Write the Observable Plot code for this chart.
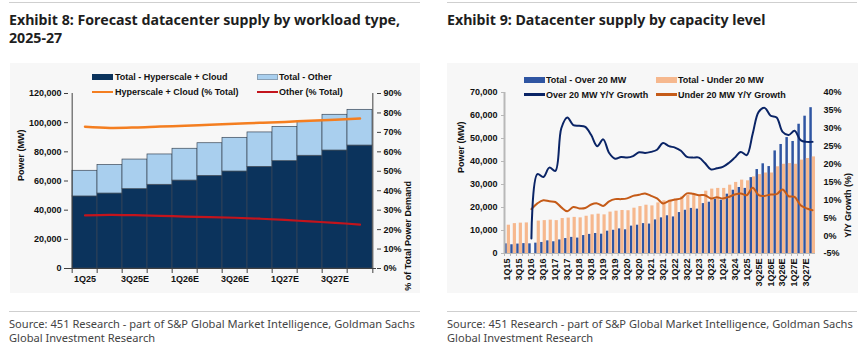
<!DOCTYPE html>
<html><head><meta charset="utf-8">
<script src="https://cdn.jsdelivr.net/npm/d3@7"></script>
<script src="https://cdn.jsdelivr.net/npm/@observablehq/plot@0.6"></script>
<style>
body{margin:0;background:#fff;width:866px;height:353px;position:relative;overflow:hidden;font-family:"Noto Sans",sans-serif;}
.title{position:absolute;font-weight:700;font-size:14.2px;line-height:18px;color:#1e1e1e;white-space:nowrap}
.rule{position:absolute;height:1px;background:#cfcfcf}
.src{position:absolute;font-size:11.1px;line-height:14px;color:#444;white-space:nowrap}
.box{position:absolute;background:#f7f7f7}
.leg{position:absolute;font:bold 9px "Liberation Sans",Arial,sans-serif;color:#111;white-space:nowrap;height:12px;line-height:12px}
.sw{position:absolute}
</style></head><body>
<div id="root"></div>
<script>
// ---------- Exhibit 8 data ----------
const q8 = ["1Q25","2Q25E","3Q25E","4Q25E","1Q26E","2Q26E","3Q26E","4Q26E","1Q27E","2Q27E","3Q27E","4Q27E"];
const q8Ticks = ["1Q25","3Q25E","1Q26E","3Q26E","1Q27E","3Q27E"];
const hyperscaleMW = [49400,51400,54400,57400,60300,63500,66500,69700,73600,77300,80900,84300];
const otherMW = [17600,19500,20300,20800,21800,22400,23100,23600,23500,23700,24500,24500];
const hyperscalePct = [72.9,72.3,72.5,73.0,73.4,73.9,74.4,74.9,75.4,76.0,76.5,77.1];
const otherPct = [27.3,27.6,27.4,27.1,26.7,26.4,26.1,25.6,25.0,24.2,23.5,22.6];
const ex8LeftTicks = [0,20000,40000,60000,80000,100000,120000];
const ex8RightTicks = [0,10,20,30,40,50,60,70,80,90];

// ---------- Exhibit 9 data ----------
const qs = ["1Q15","2Q15","3Q15","4Q15","1Q16","2Q16","3Q16","4Q16","1Q17","2Q17","3Q17","4Q17",
"1Q18","2Q18","3Q18","4Q18","1Q19","2Q19","3Q19","4Q19","1Q20","2Q20","3Q20","4Q20",
"1Q21","2Q21","3Q21","4Q21","1Q22","2Q22","3Q22","4Q22","1Q23","2Q23","3Q23","4Q23",
"1Q24","2Q24","3Q24","4Q24","1Q25","2Q25E","3Q25E","4Q25E","1Q26E","2Q26E","3Q26E","4Q26E",
"1Q27E","2Q27E","3Q27E","4Q27E"];
const qsTicks = ["1Q15","3Q15","1Q16","3Q16","1Q17","3Q17","1Q18","3Q18","1Q19","3Q19","1Q20","3Q20",
"1Q21","3Q21","1Q22","3Q22","1Q23","3Q23","1Q24","3Q24","1Q25","3Q25E","1Q26E","3Q26E","1Q27E","3Q27E"];
const over20MW = [4200,3800,4100,4300,4200,4500,4800,5500,5100,5900,6500,7000,
6700,7800,8300,8700,8400,9700,10100,10700,10300,11900,12300,13000,
12800,14600,15500,16400,15900,17800,18800,19600,19300,21700,22300,23600,
23200,25800,27500,28700,28300,33000,36500,39000,37800,44600,47400,50400,
48700,56200,59700,63400];
const under20MW = [12300,13000,13200,13300,null,14100,14300,14500,14300,15200,15400,15700,
15500,16200,16800,17100,16800,18000,18400,18700,18600,19700,20400,21000,
20700,22000,22900,23200,23600,24600,25300,25800,25300,27100,28000,28300,
28300,29700,30900,31900,31600,33300,34300,35000,35000,37700,38800,39100,
38800,40600,41300,42000];
const over20Growth = [null,null,null,null,-0.8,17.2,16.4,19.0,18.1,30.0,33.0,30.9,
30.7,30.4,28.1,25.0,26.9,23.1,21.5,22.0,21.8,22.2,23.3,23.1,
23.4,24.0,25.9,25.0,24.6,23.7,22.0,21.8,21.8,20.3,18.5,18.8,
19.2,20.3,21.8,23.4,22.5,28.5,34.6,35.7,33.5,33.0,29.0,28.1,
29.3,26.7,26.2,26.2];
const under20Growth = [null,null,null,null,7.4,9.0,9.9,9.6,9.4,7.9,6.8,8.0,
7.6,7.7,8.7,9.0,8.3,9.6,10.2,10.2,10.4,11.1,11.4,11.8,
11.1,10.4,9.0,9.7,10.1,10.4,11.8,11.7,11.3,11.3,10.4,10.7,
10.4,10.8,11.5,11.8,11.3,13.4,11.3,11.1,11.5,11.6,12.9,11.0,
10.8,8.5,7.6,7.1];
const ex9LeftTicks = [0,10000,20000,30000,40000,50000,60000,70000];
const ex9RightTicks = [-5,0,5,10,15,20,25,30,35,40];

// ---------- colours ----------
const C = {navy:"#0b335c", light:"#a9cfee", orange:"#f47e20", red:"#c3141c",
  blue:"#2f55a2", salmon:"#f6b88e", navyLine:"#0a2466", burnt:"#c55b18"};

const root = document.getElementById("root");
function el(cls, css, html){const d=document.createElement("div");d.className=cls;Object.assign(d.style,css);if(html!=null)d.innerHTML=html;root.appendChild(d);return d;}
function place(node, left, top){node.style.position="absolute";node.style.left=left+"px";node.style.top=top+"px";root.appendChild(node);}
const axisFont = {background:"transparent",fontFamily:'"Liberation Sans",Arial,sans-serif',fontSize:"9px",fontWeight:"bold",color:"#111",overflow:"visible"};

// page furniture
el("rule",{left:"9px",top:"2px",width:"411px"});
el("rule",{left:"447px",top:"2px",width:"410px"});
el("title",{left:"9px",top:"11px"},"Exhibit 8: Forecast datacenter supply by workload type,<br>2025-27");
el("title",{left:"447px",top:"11px"},"Exhibit 9: Datacenter supply by capacity level");
el("box",{left:"10px",top:"63px",width:"410px",height:"230px"});
el("box",{left:"447px",top:"63px",width:"411px",height:"230px"});
el("rule",{left:"9px",top:"311px",width:"411px"});
el("rule",{left:"447px",top:"311px",width:"410px"});
el("src",{left:"9px",top:"317px"},"Source: 451 Research - part of S&amp;P Global Market Intelligence, Goldman Sachs<br>Global Investment Research");
el("src",{left:"447px",top:"317px"},"Source: 451 Research - part of S&amp;P Global Market Intelligence, Goldman Sachs<br>Global Investment Research");

// ---------- Exhibit 8 ----------
const W8 = 410, H8 = 230, M8 = {l:58, r:44, t:30, b:25};
const bw8 = (W8 - M8.l - M8.r) / q8.length;
const ex8Rows = q8.flatMap((q,i)=>[{q, s:"Total - Hyperscale + Cloud", v:hyperscaleMW[i]},{q, s:"Total - Other", v:otherMW[i]}]);
const hpRows = q8.map((q,i)=>({q, v:hyperscalePct[i]}));
const opRows = q8.map((q,i)=>({q, v:otherPct[i]}));
const ax = "#404040";
const ex8Bars = Plot.plot({
  width:W8, height:H8, marginLeft:M8.l, marginRight:M8.r, marginTop:M8.t, marginBottom:M8.b,
  style:axisFont,
  x:{type:"band", domain:q8, padding:0, axis:null},
  y:{domain:[0,120000], axis:null},
  color:{domain:["Total - Hyperscale + Cloud","Total - Other"], range:[C.navy, C.light]},
  marks:[
    Plot.barY(ex8Rows,{x:"q", y:"v", fill:"s", stroke:"#3a4756", strokeWidth:0.7}),
    Plot.ruleX([q8[0]],{dx:-bw8/2, stroke:ax}),
    Plot.ruleY([0],{stroke:ax}),
    Plot.ruleX(q8,{dx:-bw8/2, y1:0, y2:0, insetBottom:-5, stroke:ax}),
    Plot.ruleX([q8[q8.length-1]],{dx:bw8/2, y1:0, y2:0, insetBottom:-5, stroke:ax}),
    Plot.axisY({ticks:ex8LeftTicks, tickFormat:d3.format(","), tickSize:4, tickPadding:3, label:null, stroke:ax}),
    Plot.axisX({ticks:q8Ticks, tickSize:0, tickPadding:7, label:null}),
    Plot.text(["Power (MW)"],{frameAnchor:"left", rotate:-90, dx:-47, fill:"#111"})
  ]
});
const ex8Lines = Plot.plot({
  width:W8, height:H8, marginLeft:M8.l, marginRight:M8.r, marginTop:M8.t, marginBottom:M8.b,
  style:axisFont,
  x:{type:"band", domain:q8, padding:0, axis:null},
  y:{domain:[0,90], axis:null},
  marks:[
    Plot.line(hpRows,{x:"q", y:"v", stroke:C.orange, strokeWidth:2.5, curve:"catmull-rom"}),
    Plot.line(opRows,{x:"q", y:"v", stroke:C.red, strokeWidth:2.2, curve:"catmull-rom"}),
    Plot.ruleX([q8[q8.length-1]],{dx:bw8/2, stroke:ax}),
    Plot.axisY({anchor:"right", ticks:ex8RightTicks, tickFormat:d=>d+"%", tickSize:4, tickPadding:3, label:null, stroke:ax}),
    Plot.text(["% of Total Power Demand"],{frameAnchor:"right", rotate:-90, dx:32, fill:"#111"})
  ]
});
place(ex8Bars,10,63);
place(ex8Lines,10,63);

// ---------- Exhibit 9 ----------
const W9 = 411, H9 = 230, M9 = {l:57, r:43, t:29, b:40};
const bw9 = (W9 - M9.l - M9.r) / qs.length;
const overRows = qs.map((q,i)=>({q, v:over20MW[i]}));
const underRows = qs.map((q,i)=>({q, v:under20MW[i]}));
const ogRows = qs.map((q,i)=>({q, v:over20Growth[i]}));
const ugRows = qs.map((q,i)=>({q, v:under20Growth[i]}));
const grey = "#b8b8b8";
const ex9Bars = Plot.plot({
  width:W9, height:H9, marginLeft:M9.l, marginRight:M9.r, marginTop:M9.t, marginBottom:M9.b,
  style:axisFont,
  x:{type:"band", domain:qs, padding:0, axis:null},
  y:{domain:[0,70000], axis:null},
  marks:[
    Plot.barY(overRows,{x:"q", y:"v", fill:C.blue, insetLeft:0.3, insetRight:3.2}),
    Plot.barY(underRows,{x:"q", y:"v", fill:C.salmon, insetLeft:2.8, insetRight:0}),
    Plot.ruleY([0],{stroke:grey}),
    Plot.ruleX(qs,{dx:-bw9/2, y1:0, y2:0, insetBottom:-3, stroke:grey}),
    Plot.ruleX([qs[0]],{dx:-bw9/2, stroke:grey, strokeWidth:2}),
    Plot.axisY({ticks:ex9LeftTicks, tickFormat:d3.format(","), tickSize:3, tickPadding:4, label:null, stroke:grey}),
    Plot.axisX({ticks:qsTicks, tickRotate:-90, tickSize:0, tickPadding:5, label:null}),
    Plot.text(["Power (MW)"],{frameAnchor:"left", rotate:-90, dx:-43, fill:"#111"})
  ]
});
const ex9Lines = Plot.plot({
  width:W9, height:H9, marginLeft:M9.l, marginRight:M9.r, marginTop:M9.t, marginBottom:M9.b,
  style:axisFont,
  x:{type:"band", domain:qs, padding:0, axis:null},
  y:{domain:[-5,40], axis:null},
  marks:[
    Plot.line(ugRows,{x:"q", y:"v", stroke:C.burnt, strokeWidth:2, curve:"catmull-rom"}),
    Plot.line(ogRows,{x:"q", y:"v", stroke:C.navyLine, strokeWidth:2, curve:"catmull-rom"}),
    Plot.axisY({anchor:"right", ticks:ex9RightTicks, tickFormat:d=>d+"%", tickSize:0, tickPadding:8, label:null}),
    Plot.text(["Y/Y Growth (%)"],{frameAnchor:"right", rotate:-90, dx:33, fill:"#111"})
  ]
});
place(ex9Bars,447,63);
place(ex9Lines,447,63);

// ---------- legends ----------
function legend(items){
  for(const it of items){
    const sw = document.createElement("div"); sw.className="sw";
    if(it.kind==="box"){
      Object.assign(sw.style,{left:it.x+"px",top:(it.y-3)+"px",width:"21px",height:"6px",background:it.color,boxSizing:"border-box",border:"0.5px solid "+(it.border||it.color)});
    } else {
      Object.assign(sw.style,{left:it.x+"px",top:(it.y-1.25)+"px",width:"21px",height:"2.5px",background:it.color});
    }
    root.appendChild(sw);
    el("leg",{left:(it.x+it.gap)+"px",top:(it.y-6)+"px"},it.label);
  }
}
legend([
  {x:92,y:77,kind:"box",color:C.navy,gap:23,label:"Total - Hyperscale + Cloud"},
  {x:257,y:77,kind:"box",color:C.light,border:"#8aa0b4",gap:22,label:"Total - Other"},
  {x:92,y:92,kind:"line",color:C.orange,gap:23,label:"Hyperscale + Cloud (% Total)"},
  {x:257,y:92,kind:"line",color:C.red,gap:22,label:"Other (% Total)"},
  {x:524,y:80,kind:"box",color:C.blue,gap:22,label:"Total - Over 20 MW"},
  {x:656,y:80,kind:"box",color:C.salmon,gap:22,label:"Total - Under 20 MW"},
  {x:524,y:94.5,kind:"line",color:C.navyLine,gap:22,label:"Over 20 MW Y/Y Growth"},
  {x:656,y:94.5,kind:"line",color:C.burnt,gap:22,label:"Under 20 MW Y/Y Growth"}
]);
</script>
</body></html>
